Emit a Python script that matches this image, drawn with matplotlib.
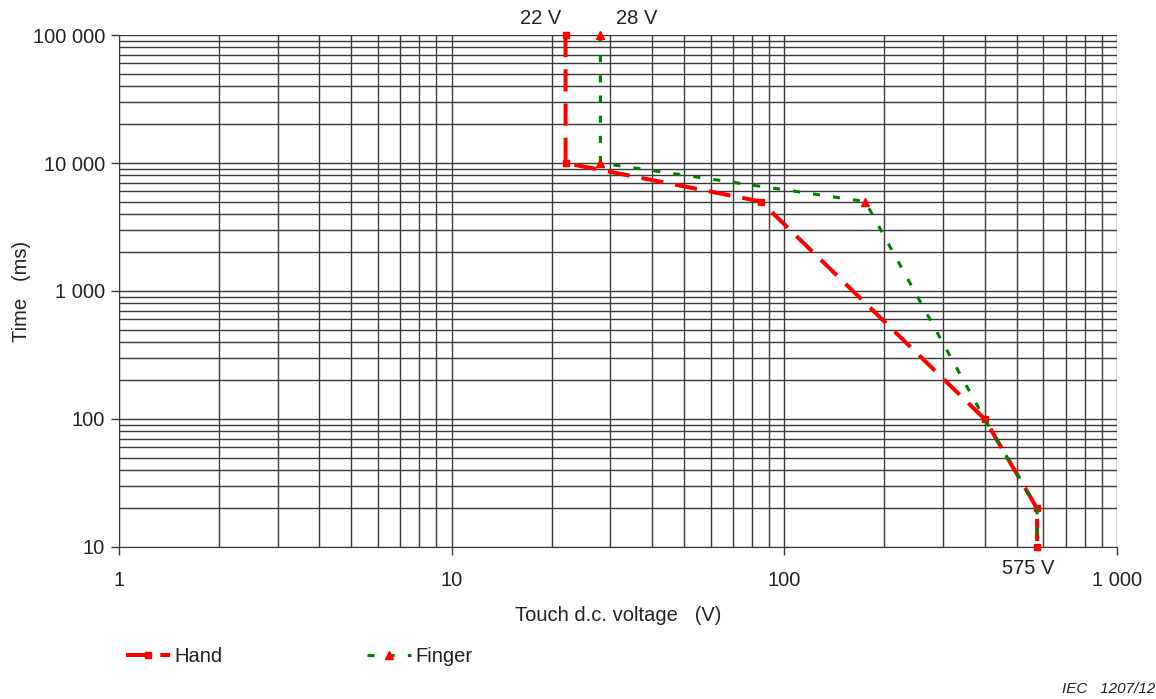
import matplotlib.pyplot as plt
from matplotlib.lines import Line2D
from matplotlib.ticker import FixedLocator, LogLocator, NullFormatter

plt.rcParams['font.family'] = ['Liberation Sans', 'DejaVu Sans']

# touch voltage (V) and time (ms)
hand_v = [22, 22, 85, 400, 575, 575]
hand_t = [100000, 10000, 5000, 100, 20, 10]
finger_v = [28, 28, 175, 400, 575, 575]
finger_t = [100000, 10000, 5000, 100, 20, 10]

x_ticks = [1, 10, 100, 1000]
x_labels = ['1', '10', '100', '1 000']
y_ticks = [10, 100, 1000, 10000, 100000]
y_labels = ['10', '100', '1 000', '10 000', '100 000']

txt = '#222222'
grid_c = '#3a3a3a'
fs = 14.5

fig = plt.figure(figsize=(11.56, 6.99), dpi=100)
ax = fig.add_axes([0.1029, 0.2175, 0.8634, 0.7324])
ax.set_xscale('log')
ax.set_yscale('log')
ax.set_xlim(1, 1000)
ax.set_ylim(10, 100000)

ax.xaxis.set_major_locator(FixedLocator(x_ticks))
ax.set_xticklabels(x_labels)
ax.yaxis.set_major_locator(FixedLocator(y_ticks))
ax.set_yticklabels(y_labels)
ax.xaxis.set_minor_locator(LogLocator(base=10, subs=range(2, 10)))
ax.yaxis.set_minor_locator(LogLocator(base=10, subs=range(2, 10)))
ax.xaxis.set_minor_formatter(NullFormatter())
ax.yaxis.set_minor_formatter(NullFormatter())
ax.tick_params(which='minor', length=0)
ax.tick_params(which='major', length=6, width=1, color=grid_c,
               labelsize=fs, labelcolor=txt, direction='out')
ax.tick_params(axis='x', pad=11)
ax.tick_params(axis='y', pad=4)
ax.grid(which='both', color=grid_c, linewidth=1)
ax.set_axisbelow(True)
for s in ['top', 'right']:
    ax.spines[s].set_visible(False)
for s in ['left', 'bottom']:
    ax.spines[s].set_color(grid_c)

ax.plot(hand_v, hand_t, color='#ff0000', linewidth=2.9,
        linestyle=(0, (5.5, 3)), marker='s', markersize=5,
        markerfacecolor='#ff0000', markeredgecolor='#ff0000',
        clip_on=False, zorder=3)
ax.plot(finger_v, finger_t, color='#008000', linewidth=2.2,
        linestyle=(0, (2.3, 4.3)), marker='^', markersize=6,
        markevery=[0, 1, 2],
        markerfacecolor='#ff0000', markeredgecolor='#ff0000',
        clip_on=False, zorder=4)

ax.set_xlabel('Touch d.c. voltage   (V)', fontsize=fs, color=txt, labelpad=12)
ax.set_ylabel('Time   (ms)', fontsize=fs, color=txt, labelpad=1)

ax.annotate('22 V', xy=(22, 100000), xytext=(-25, 7), textcoords='offset pixels',
            fontsize=fs, color=txt, ha='center', va='bottom', annotation_clip=False)
ax.annotate('28 V', xy=(28, 100000), xytext=(36, 7), textcoords='offset pixels',
            fontsize=fs, color=txt, ha='center', va='bottom', annotation_clip=False)
ax.annotate('575 V', xy=(575, 10), xytext=(-9, -12), textcoords='offset pixels',
            fontsize=fs, color=txt, ha='center', va='top', annotation_clip=False)

handles = [
    Line2D([], [], color='#ff0000', linewidth=2.9, linestyle=(0, (5.5, 3)),
           marker='s', markersize=5, markerfacecolor='#ff0000',
           markeredgecolor='#ff0000'),
    Line2D([], [], color='#008000', linewidth=2.2, linestyle=(0, (2.3, 4.3)),
           marker='^', markersize=6, markerfacecolor='#ff0000',
           markeredgecolor='#ff0000'),
]
fig.legend(handles, ['Hand', 'Finger'], loc='center left',
           bbox_to_anchor=(0.093, 0.061), ncol=2, frameon=False,
           fontsize=fs, handlelength=2.2, handletextpad=0.2,
           columnspacing=7.2, labelcolor=txt)

fig.text(0.919, 0.004, 'IEC   1207/12', fontsize=11, style='italic',
         color=txt, ha='left', va='bottom')

fig.savefig('out.png', dpi=100)
